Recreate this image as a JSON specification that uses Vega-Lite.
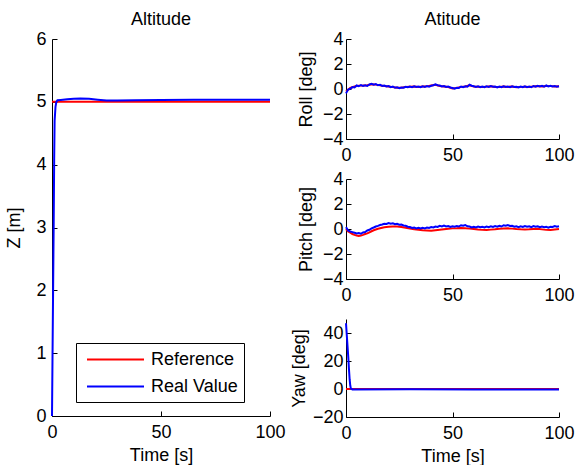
{
  "$schema": "https://vega.github.io/schema/vega-lite/v6.json",
  "padding": {"left": 5, "top": 11, "right": 0, "bottom": 0},
  "background": "white",
  "config": {
    "view": {"stroke": null},
    "font": "Liberation Sans",
    "axis": {
      "domainColor": "black", "tickColor": "black", "labelColor": "black", "titleColor": "black",
      "grid": false, "labelFont": "Liberation Sans", "titleFont": "Liberation Sans",
      "labelFontSize": 18, "titleFontSize": 18, "titleFontWeight": "normal",
      "tickSize": -5, "domainWidth": 1, "tickWidth": 1, "labelFlush": false
    },
    "axisX": {"labelPadding": 12, "titlePadding": 5},
    "axisY": {"labelPadding": 11, "titlePadding": 10},
    "title": {"font": "Liberation Sans", "fontSize": 18, "fontWeight": "normal", "color": "black", "offset": 1, "frame": "group"},
    "legend": {
      "strokeColor": "black", "fillColor": "white", "padding": 6,
      "labelFont": "Liberation Sans", "labelFontSize": 18, "labelColor": "black",
      "symbolType": "M-1,0H5", "symbolStrokeWidth": 2, "symbolSize": 361, "symbolOffset": 4, "labelOffset": 44, "rowPadding": 7
    }
  },
  "datasets": {
    "alt": [
      {"t": 0, "v": 5, "s": "Reference"}, {"t": 100, "v": 5, "s": "Reference"},
      {"t": 0, "v": 0, "s": "Real Value"}, {"t": 0.4, "v": 1.6, "s": "Real Value"}, {"t": 0.76, "v": 3.0, "s": "Real Value"},
      {"t": 1.0, "v": 4.1, "s": "Real Value"}, {"t": 1.2, "v": 4.7, "s": "Real Value"}, {"t": 1.6, "v": 4.92, "s": "Real Value"},
      {"t": 2.0, "v": 5.0, "s": "Real Value"}, {"t": 2.5, "v": 5.025, "s": "Real Value"}, {"t": 4, "v": 5.03, "s": "Real Value"},
      {"t": 7, "v": 5.04, "s": "Real Value"}, {"t": 10, "v": 5.05, "s": "Real Value"}, {"t": 13, "v": 5.055, "s": "Real Value"},
      {"t": 17, "v": 5.05, "s": "Real Value"}, {"t": 21, "v": 5.035, "s": "Real Value"}, {"t": 25, "v": 5.022, "s": "Real Value"},
      {"t": 30, "v": 5.02, "s": "Real Value"}, {"t": 38, "v": 5.027, "s": "Real Value"}, {"t": 50, "v": 5.03, "s": "Real Value"},
      {"t": 65, "v": 5.032, "s": "Real Value"}, {"t": 80, "v": 5.033, "s": "Real Value"}, {"t": 100, "v": 5.033, "s": "Real Value"}
    ],
    "roll": [
      {"t": 0, "v": -0.2, "s": "Reference"}, {"t": 2, "v": 0.08, "s": "Reference"}, {"t": 4, "v": 0.2, "s": "Reference"}, {"t": 6, "v": 0.27, "s": "Reference"},
      {"t": 8, "v": 0.28, "s": "Reference"}, {"t": 10, "v": 0.3, "s": "Reference"}, {"t": 12, "v": 0.38, "s": "Reference"}, {"t": 14, "v": 0.35, "s": "Reference"},
      {"t": 16, "v": 0.29, "s": "Reference"}, {"t": 18, "v": 0.24, "s": "Reference"}, {"t": 20, "v": 0.2, "s": "Reference"}, {"t": 22, "v": 0.15, "s": "Reference"},
      {"t": 24, "v": 0.1, "s": "Reference"}, {"t": 26, "v": 0.11, "s": "Reference"}, {"t": 28, "v": 0.16, "s": "Reference"}, {"t": 30, "v": 0.18, "s": "Reference"},
      {"t": 32, "v": 0.19, "s": "Reference"}, {"t": 34, "v": 0.17, "s": "Reference"}, {"t": 36, "v": 0.2, "s": "Reference"}, {"t": 38, "v": 0.21, "s": "Reference"},
      {"t": 40, "v": 0.28, "s": "Reference"}, {"t": 42, "v": 0.34, "s": "Reference"}, {"t": 44, "v": 0.24, "s": "Reference"}, {"t": 46, "v": 0.2, "s": "Reference"},
      {"t": 48, "v": 0.16, "s": "Reference"}, {"t": 50, "v": 0.05, "s": "Reference"}, {"t": 52, "v": 0.09, "s": "Reference"}, {"t": 54, "v": 0.17, "s": "Reference"},
      {"t": 56, "v": 0.2, "s": "Reference"}, {"t": 58, "v": 0.3, "s": "Reference"}, {"t": 60, "v": 0.19, "s": "Reference"}, {"t": 62, "v": 0.18, "s": "Reference"},
      {"t": 64, "v": 0.17, "s": "Reference"}, {"t": 66, "v": 0.19, "s": "Reference"}, {"t": 68, "v": 0.21, "s": "Reference"}, {"t": 70, "v": 0.17, "s": "Reference"},
      {"t": 72, "v": 0.17, "s": "Reference"}, {"t": 74, "v": 0.19, "s": "Reference"}, {"t": 76, "v": 0.17, "s": "Reference"}, {"t": 78, "v": 0.19, "s": "Reference"},
      {"t": 80, "v": 0.15, "s": "Reference"}, {"t": 82, "v": 0.17, "s": "Reference"}, {"t": 84, "v": 0.18, "s": "Reference"}, {"t": 86, "v": 0.17, "s": "Reference"},
      {"t": 88, "v": 0.21, "s": "Reference"}, {"t": 90, "v": 0.23, "s": "Reference"}, {"t": 92, "v": 0.21, "s": "Reference"}, {"t": 94, "v": 0.24, "s": "Reference"},
      {"t": 96, "v": 0.23, "s": "Reference"}, {"t": 98, "v": 0.21, "s": "Reference"}, {"t": 100, "v": 0.22, "s": "Reference"},
      {"t": 0, "v": -0.35, "s": "Real Value"}, {"t": 1, "v": -0.05, "s": "Real Value"}, {"t": 2, "v": 0.02, "s": "Real Value"}, {"t": 3, "v": 0.15, "s": "Real Value"}, {"t": 4, "v": 0.12, "s": "Real Value"},
      {"t": 5, "v": 0.28, "s": "Real Value"}, {"t": 6, "v": 0.22, "s": "Real Value"}, {"t": 7, "v": 0.32, "s": "Real Value"}, {"t": 8, "v": 0.25, "s": "Real Value"}, {"t": 9, "v": 0.3, "s": "Real Value"},
      {"t": 10, "v": 0.24, "s": "Real Value"}, {"t": 11, "v": 0.36, "s": "Real Value"}, {"t": 12, "v": 0.42, "s": "Real Value"}, {"t": 13, "v": 0.35, "s": "Real Value"}, {"t": 14, "v": 0.4, "s": "Real Value"},
      {"t": 15, "v": 0.3, "s": "Real Value"}, {"t": 16, "v": 0.33, "s": "Real Value"}, {"t": 17, "v": 0.25, "s": "Real Value"}, {"t": 18, "v": 0.28, "s": "Real Value"}, {"t": 19, "v": 0.2, "s": "Real Value"},
      {"t": 20, "v": 0.24, "s": "Real Value"}, {"t": 21, "v": 0.15, "s": "Real Value"}, {"t": 22, "v": 0.2, "s": "Real Value"}, {"t": 23, "v": 0.1, "s": "Real Value"}, {"t": 24, "v": 0.14, "s": "Real Value"},
      {"t": 25, "v": 0.06, "s": "Real Value"}, {"t": 26, "v": 0.12, "s": "Real Value"}, {"t": 27, "v": 0.1, "s": "Real Value"}, {"t": 28, "v": 0.18, "s": "Real Value"}, {"t": 29, "v": 0.14, "s": "Real Value"},
      {"t": 30, "v": 0.2, "s": "Real Value"}, {"t": 31, "v": 0.15, "s": "Real Value"}, {"t": 32, "v": 0.22, "s": "Real Value"}, {"t": 33, "v": 0.16, "s": "Real Value"}, {"t": 34, "v": 0.2, "s": "Real Value"},
      {"t": 35, "v": 0.14, "s": "Real Value"}, {"t": 36, "v": 0.22, "s": "Real Value"}, {"t": 37, "v": 0.17, "s": "Real Value"}, {"t": 38, "v": 0.24, "s": "Real Value"}, {"t": 39, "v": 0.18, "s": "Real Value"},
      {"t": 40, "v": 0.26, "s": "Real Value"}, {"t": 41, "v": 0.3, "s": "Real Value"}, {"t": 42, "v": 0.38, "s": "Real Value"}, {"t": 43, "v": 0.3, "s": "Real Value"}, {"t": 44, "v": 0.28, "s": "Real Value"},
      {"t": 45, "v": 0.2, "s": "Real Value"}, {"t": 46, "v": 0.24, "s": "Real Value"}, {"t": 47, "v": 0.16, "s": "Real Value"}, {"t": 48, "v": 0.2, "s": "Real Value"}, {"t": 49, "v": 0.12, "s": "Real Value"},
      {"t": 50, "v": 0.08, "s": "Real Value"}, {"t": 51, "v": 0.02, "s": "Real Value"}, {"t": 52, "v": 0.1, "s": "Real Value"}, {"t": 53, "v": 0.08, "s": "Real Value"}, {"t": 54, "v": 0.2, "s": "Real Value"},
      {"t": 55, "v": 0.14, "s": "Real Value"}, {"t": 56, "v": 0.22, "s": "Real Value"}, {"t": 57, "v": 0.18, "s": "Real Value"}, {"t": 58, "v": 0.34, "s": "Real Value"}, {"t": 59, "v": 0.26, "s": "Real Value"},
      {"t": 60, "v": 0.22, "s": "Real Value"}, {"t": 61, "v": 0.16, "s": "Real Value"}, {"t": 62, "v": 0.22, "s": "Real Value"}, {"t": 63, "v": 0.15, "s": "Real Value"}, {"t": 64, "v": 0.2, "s": "Real Value"},
      {"t": 65, "v": 0.14, "s": "Real Value"}, {"t": 66, "v": 0.22, "s": "Real Value"}, {"t": 67, "v": 0.16, "s": "Real Value"}, {"t": 68, "v": 0.24, "s": "Real Value"}, {"t": 69, "v": 0.18, "s": "Real Value"},
      {"t": 70, "v": 0.2, "s": "Real Value"}, {"t": 71, "v": 0.13, "s": "Real Value"}, {"t": 72, "v": 0.2, "s": "Real Value"}, {"t": 73, "v": 0.14, "s": "Real Value"}, {"t": 74, "v": 0.22, "s": "Real Value"},
      {"t": 75, "v": 0.16, "s": "Real Value"}, {"t": 76, "v": 0.2, "s": "Real Value"}, {"t": 77, "v": 0.14, "s": "Real Value"}, {"t": 78, "v": 0.22, "s": "Real Value"}, {"t": 79, "v": 0.16, "s": "Real Value"},
      {"t": 80, "v": 0.18, "s": "Real Value"}, {"t": 81, "v": 0.12, "s": "Real Value"}, {"t": 82, "v": 0.2, "s": "Real Value"}, {"t": 83, "v": 0.14, "s": "Real Value"}, {"t": 84, "v": 0.22, "s": "Real Value"},
      {"t": 85, "v": 0.15, "s": "Real Value"}, {"t": 86, "v": 0.2, "s": "Real Value"}, {"t": 87, "v": 0.14, "s": "Real Value"}, {"t": 88, "v": 0.24, "s": "Real Value"}, {"t": 89, "v": 0.18, "s": "Real Value"},
      {"t": 90, "v": 0.26, "s": "Real Value"}, {"t": 91, "v": 0.2, "s": "Real Value"}, {"t": 92, "v": 0.25, "s": "Real Value"}, {"t": 93, "v": 0.18, "s": "Real Value"}, {"t": 94, "v": 0.28, "s": "Real Value"},
      {"t": 95, "v": 0.2, "s": "Real Value"}, {"t": 96, "v": 0.26, "s": "Real Value"}, {"t": 97, "v": 0.2, "s": "Real Value"}, {"t": 98, "v": 0.24, "s": "Real Value"}, {"t": 99, "v": 0.18, "s": "Real Value"},
      {"t": 100, "v": 0.22, "s": "Real Value"}
    ],
    "pitch": [
      {"t": 0, "v": 0, "s": "Reference"}, {"t": 1, "v": -0.2, "s": "Reference"}, {"t": 2, "v": -0.3, "s": "Reference"}, {"t": 3, "v": -0.4, "s": "Reference"},
      {"t": 4, "v": -0.47, "s": "Reference"}, {"t": 5, "v": -0.52, "s": "Reference"}, {"t": 6, "v": -0.55, "s": "Reference"}, {"t": 7, "v": -0.52, "s": "Reference"},
      {"t": 8, "v": -0.47, "s": "Reference"}, {"t": 9, "v": -0.4, "s": "Reference"}, {"t": 10, "v": -0.35, "s": "Reference"}, {"t": 11, "v": -0.27, "s": "Reference"},
      {"t": 12, "v": -0.18, "s": "Reference"}, {"t": 13, "v": -0.1, "s": "Reference"}, {"t": 14, "v": -0.04, "s": "Reference"}, {"t": 15, "v": 0.02, "s": "Reference"},
      {"t": 16, "v": 0.06, "s": "Reference"}, {"t": 17, "v": 0.1, "s": "Reference"}, {"t": 18, "v": 0.14, "s": "Reference"}, {"t": 19, "v": 0.16, "s": "Reference"},
      {"t": 20, "v": 0.18, "s": "Reference"}, {"t": 22, "v": 0.2, "s": "Reference"}, {"t": 24, "v": 0.2, "s": "Reference"}, {"t": 26, "v": 0.16, "s": "Reference"},
      {"t": 28, "v": 0.1, "s": "Reference"}, {"t": 30, "v": 0.04, "s": "Reference"}, {"t": 32, "v": -0.02, "s": "Reference"}, {"t": 34, "v": -0.06, "s": "Reference"},
      {"t": 36, "v": -0.1, "s": "Reference"}, {"t": 38, "v": -0.12, "s": "Reference"}, {"t": 40, "v": -0.14, "s": "Reference"}, {"t": 42, "v": -0.1, "s": "Reference"},
      {"t": 44, "v": -0.06, "s": "Reference"}, {"t": 46, "v": -0.02, "s": "Reference"}, {"t": 48, "v": 0.02, "s": "Reference"}, {"t": 50, "v": 0.05, "s": "Reference"},
      {"t": 52, "v": 0.06, "s": "Reference"}, {"t": 54, "v": 0.08, "s": "Reference"}, {"t": 56, "v": 0.06, "s": "Reference"}, {"t": 58, "v": 0.03, "s": "Reference"},
      {"t": 60, "v": 0, "s": "Reference"}, {"t": 62, "v": -0.04, "s": "Reference"}, {"t": 64, "v": -0.07, "s": "Reference"}, {"t": 66, "v": -0.08, "s": "Reference"},
      {"t": 68, "v": -0.05, "s": "Reference"}, {"t": 70, "v": -0.02, "s": "Reference"}, {"t": 72, "v": 0.02, "s": "Reference"}, {"t": 74, "v": 0.04, "s": "Reference"},
      {"t": 76, "v": 0.05, "s": "Reference"}, {"t": 78, "v": 0.03, "s": "Reference"}, {"t": 80, "v": 0, "s": "Reference"}, {"t": 82, "v": -0.02, "s": "Reference"},
      {"t": 84, "v": -0.03, "s": "Reference"}, {"t": 86, "v": -0.02, "s": "Reference"}, {"t": 88, "v": 0, "s": "Reference"}, {"t": 90, "v": 0.01, "s": "Reference"},
      {"t": 92, "v": -0.03, "s": "Reference"}, {"t": 94, "v": -0.07, "s": "Reference"}, {"t": 96, "v": -0.08, "s": "Reference"}, {"t": 98, "v": -0.04, "s": "Reference"},
      {"t": 100, "v": 0, "s": "Reference"},
      {"t": 0, "v": 0.15, "s": "Real Value"}, {"t": 1, "v": -0.12, "s": "Real Value"}, {"t": 2, "v": -0.2, "s": "Real Value"}, {"t": 3, "v": -0.25, "s": "Real Value"}, {"t": 4, "v": -0.3, "s": "Real Value"},
      {"t": 5, "v": -0.36, "s": "Real Value"}, {"t": 6, "v": -0.32, "s": "Real Value"}, {"t": 7, "v": -0.38, "s": "Real Value"}, {"t": 8, "v": -0.28, "s": "Real Value"}, {"t": 9, "v": -0.24, "s": "Real Value"},
      {"t": 10, "v": -0.12, "s": "Real Value"}, {"t": 11, "v": -0.06, "s": "Real Value"}, {"t": 12, "v": 0.05, "s": "Real Value"}, {"t": 13, "v": 0.12, "s": "Real Value"}, {"t": 14, "v": 0.2, "s": "Real Value"},
      {"t": 15, "v": 0.25, "s": "Real Value"}, {"t": 16, "v": 0.32, "s": "Real Value"}, {"t": 17, "v": 0.36, "s": "Real Value"}, {"t": 18, "v": 0.42, "s": "Real Value"}, {"t": 19, "v": 0.4, "s": "Real Value"},
      {"t": 20, "v": 0.48, "s": "Real Value"}, {"t": 21, "v": 0.42, "s": "Real Value"}, {"t": 22, "v": 0.46, "s": "Real Value"}, {"t": 23, "v": 0.38, "s": "Real Value"}, {"t": 24, "v": 0.42, "s": "Real Value"},
      {"t": 25, "v": 0.34, "s": "Real Value"}, {"t": 26, "v": 0.36, "s": "Real Value"}, {"t": 27, "v": 0.28, "s": "Real Value"}, {"t": 28, "v": 0.26, "s": "Real Value"}, {"t": 29, "v": 0.18, "s": "Real Value"},
      {"t": 30, "v": 0.16, "s": "Real Value"}, {"t": 31, "v": 0.08, "s": "Real Value"}, {"t": 32, "v": 0.12, "s": "Real Value"}, {"t": 33, "v": 0.05, "s": "Real Value"}, {"t": 34, "v": 0.1, "s": "Real Value"},
      {"t": 35, "v": 0.04, "s": "Real Value"}, {"t": 36, "v": 0.1, "s": "Real Value"}, {"t": 37, "v": 0.05, "s": "Real Value"}, {"t": 38, "v": 0.12, "s": "Real Value"}, {"t": 39, "v": 0.08, "s": "Real Value"},
      {"t": 40, "v": 0.15, "s": "Real Value"}, {"t": 41, "v": 0.12, "s": "Real Value"}, {"t": 42, "v": 0.2, "s": "Real Value"}, {"t": 43, "v": 0.16, "s": "Real Value"}, {"t": 44, "v": 0.25, "s": "Real Value"},
      {"t": 45, "v": 0.2, "s": "Real Value"}, {"t": 46, "v": 0.28, "s": "Real Value"}, {"t": 47, "v": 0.2, "s": "Real Value"}, {"t": 48, "v": 0.24, "s": "Real Value"}, {"t": 49, "v": 0.16, "s": "Real Value"},
      {"t": 50, "v": 0.22, "s": "Real Value"}, {"t": 51, "v": 0.18, "s": "Real Value"}, {"t": 52, "v": 0.24, "s": "Real Value"}, {"t": 53, "v": 0.2, "s": "Real Value"}, {"t": 54, "v": 0.3, "s": "Real Value"},
      {"t": 55, "v": 0.26, "s": "Real Value"}, {"t": 56, "v": 0.32, "s": "Real Value"}, {"t": 57, "v": 0.22, "s": "Real Value"}, {"t": 58, "v": 0.2, "s": "Real Value"}, {"t": 59, "v": 0.12, "s": "Real Value"},
      {"t": 60, "v": 0.18, "s": "Real Value"}, {"t": 61, "v": 0.12, "s": "Real Value"}, {"t": 62, "v": 0.2, "s": "Real Value"}, {"t": 63, "v": 0.14, "s": "Real Value"}, {"t": 64, "v": 0.18, "s": "Real Value"},
      {"t": 65, "v": 0.12, "s": "Real Value"}, {"t": 66, "v": 0.2, "s": "Real Value"}, {"t": 67, "v": 0.15, "s": "Real Value"}, {"t": 68, "v": 0.22, "s": "Real Value"}, {"t": 69, "v": 0.16, "s": "Real Value"},
      {"t": 70, "v": 0.24, "s": "Real Value"}, {"t": 71, "v": 0.18, "s": "Real Value"}, {"t": 72, "v": 0.26, "s": "Real Value"}, {"t": 73, "v": 0.2, "s": "Real Value"}, {"t": 74, "v": 0.3, "s": "Real Value"},
      {"t": 75, "v": 0.26, "s": "Real Value"}, {"t": 76, "v": 0.32, "s": "Real Value"}, {"t": 77, "v": 0.24, "s": "Real Value"}, {"t": 78, "v": 0.26, "s": "Real Value"}, {"t": 79, "v": 0.18, "s": "Real Value"},
      {"t": 80, "v": 0.22, "s": "Real Value"}, {"t": 81, "v": 0.15, "s": "Real Value"}, {"t": 82, "v": 0.22, "s": "Real Value"}, {"t": 83, "v": 0.16, "s": "Real Value"}, {"t": 84, "v": 0.24, "s": "Real Value"},
      {"t": 85, "v": 0.18, "s": "Real Value"}, {"t": 86, "v": 0.22, "s": "Real Value"}, {"t": 87, "v": 0.15, "s": "Real Value"}, {"t": 88, "v": 0.24, "s": "Real Value"}, {"t": 89, "v": 0.18, "s": "Real Value"},
      {"t": 90, "v": 0.22, "s": "Real Value"}, {"t": 91, "v": 0.15, "s": "Real Value"}, {"t": 92, "v": 0.2, "s": "Real Value"}, {"t": 93, "v": 0.14, "s": "Real Value"}, {"t": 94, "v": 0.18, "s": "Real Value"},
      {"t": 95, "v": 0.1, "s": "Real Value"}, {"t": 96, "v": 0.18, "s": "Real Value"}, {"t": 97, "v": 0.16, "s": "Real Value"}, {"t": 98, "v": 0.24, "s": "Real Value"}, {"t": 99, "v": 0.18, "s": "Real Value"},
      {"t": 100, "v": 0.22, "s": "Real Value"}
    ],
    "yaw": [
      {"t": 0, "v": 0, "s": "Reference"}, {"t": 100, "v": 0, "s": "Reference"},
      {"t": 0, "v": 47, "s": "Real Value"}, {"t": 0.3, "v": 40, "s": "Real Value"}, {"t": 0.7, "v": 31, "s": "Real Value"},
      {"t": 1.1, "v": 22, "s": "Real Value"}, {"t": 1.4, "v": 14, "s": "Real Value"}, {"t": 1.7, "v": 7, "s": "Real Value"},
      {"t": 2.0, "v": 2.5, "s": "Real Value"}, {"t": 2.3, "v": 0.3, "s": "Real Value"}, {"t": 3, "v": -0.3, "s": "Real Value"},
      {"t": 30, "v": -0.2, "s": "Real Value"}, {"t": 60, "v": -0.3, "s": "Real Value"}, {"t": 100, "v": -0.3, "s": "Real Value"}
    ]
  },
  "hconcat": [
    {
      "width": 218, "height": 377,
      "title": "Altitude",
      "data": {"name": "alt"},
      "encoding": {
        "x": {"field": "t", "type": "quantitative", "scale": {"domain": [0, 100], "nice": false}, "axis": {"values": [0, 50, 100], "title": "Time [s]"}},
        "y": {"field": "v", "type": "quantitative", "scale": {"domain": [0, 6], "nice": false}, "axis": {"values": [0, 1, 2, 3, 4, 5, 6], "title": "Z [m]", "titlePadding": 12}},
        "color": {"field": "s", "type": "nominal", "scale": {"domain": ["Reference", "Real Value"], "range": ["#ff0000", "#0000ff"]},
          "legend": {"title": null, "orient": "none", "legendX": 24, "legendY": 304}}
      },
      "layer": [
        {"transform": [{"filter": "datum.s == 'Reference'"}], "mark": {"type": "line", "strokeWidth": 2}},
        {"transform": [{"filter": "datum.s == 'Real Value'"}], "mark": {"type": "line", "strokeWidth": 2}}
      ]
    },
    {
      "vconcat": [
        {
          "width": 213, "height": 100,
          "title": "Atitude",
          "data": {"name": "roll"},
          "encoding": {
            "x": {"field": "t", "type": "quantitative", "scale": {"domain": [0, 100], "nice": false}, "axis": {"values": [0, 50, 100], "title": null}},
            "y": {"field": "v", "type": "quantitative", "scale": {"domain": [-4, 4], "nice": false}, "axis": {"values": [-4, -2, 0, 2, 4], "title": "Roll [deg]", "labelPadding": 8, "titlePadding": 7}}
          },
          "layer": [
            {"transform": [{"filter": "datum.s == 'Reference'"}], "mark": {"type": "line", "strokeWidth": 2, "color": "#ff0000"}},
            {"transform": [{"filter": "datum.s == 'Real Value'"}], "mark": {"type": "line", "strokeWidth": 2, "color": "#0000ff"}}
          ]
        },
        {
          "width": 213, "height": 100,
          "data": {"name": "pitch"},
          "encoding": {
            "x": {"field": "t", "type": "quantitative", "scale": {"domain": [0, 100], "nice": false}, "axis": {"values": [0, 50, 100], "title": null}},
            "y": {"field": "v", "type": "quantitative", "scale": {"domain": [-4, 4], "nice": false}, "axis": {"values": [-4, -2, 0, 2, 4], "title": "Pitch [deg]", "labelPadding": 8, "titlePadding": 7}}
          },
          "layer": [
            {"transform": [{"filter": "datum.s == 'Reference'"}], "mark": {"type": "line", "strokeWidth": 2, "color": "#ff0000"}},
            {"transform": [{"filter": "datum.s == 'Real Value'"}], "mark": {"type": "line", "strokeWidth": 2, "color": "#0000ff"}}
          ]
        },
        {
          "width": 213, "height": 98,
          "data": {"name": "yaw"},
          "encoding": {
            "x": {"field": "t", "type": "quantitative", "scale": {"domain": [0, 100], "nice": false}, "axis": {"values": [0, 50, 100], "title": "Time [s]"}},
            "y": {"field": "v", "type": "quantitative", "scale": {"domain": [-20, 50], "nice": false}, "axis": {"values": [-20, 0, 20, 40], "title": "Yaw [deg]", "labelPadding": 8, "titlePadding": 4}}
          },
          "layer": [
            {"transform": [{"filter": "datum.s == 'Reference'"}], "mark": {"type": "line", "strokeWidth": 2, "color": "#ff0000"}},
            {"transform": [{"filter": "datum.s == 'Real Value'"}], "mark": {"type": "line", "strokeWidth": 2, "color": "#0000ff"}}
          ]
        }
      ],
      "spacing": 40,
      "bounds": "flush"
    }
  ],
  "spacing": 76,
  "bounds": "flush"
}
